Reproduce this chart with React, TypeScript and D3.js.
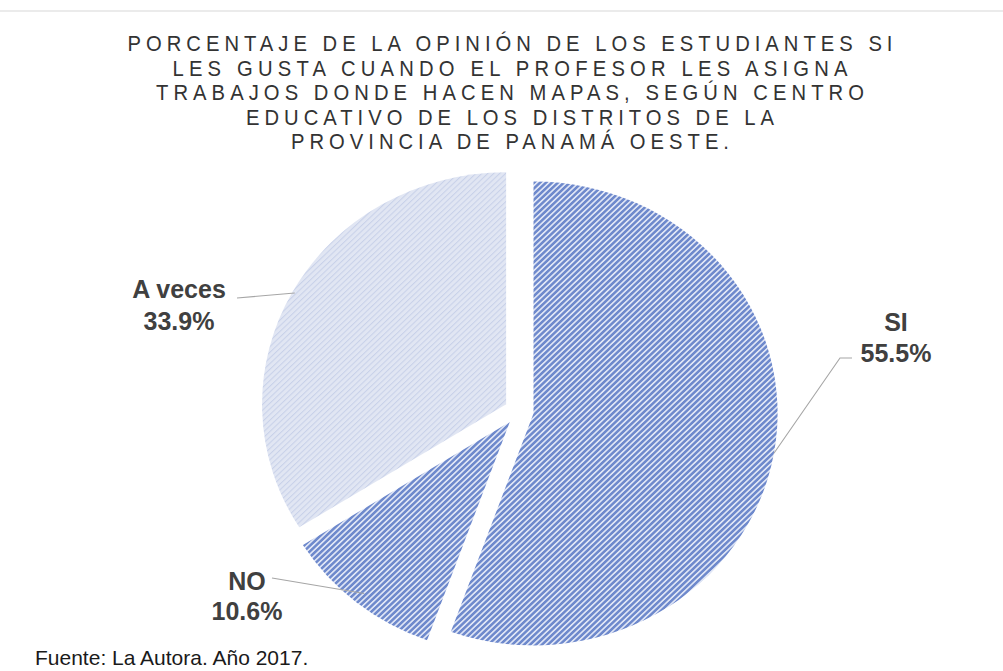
import React from "react";
import * as d3 from "d3";

const categories = ["SI", "NO", "A veces"];
const values = [55.5, 10.6, 33.9];
const valueLabels = ["55.5%", "10.6%", "33.9%"];
const titleLines = [
  "PORCENTAJE DE LA OPINIÓN DE LOS ESTUDIANTES SI",
  "LES GUSTA CUANDO EL PROFESOR LES ASIGNA",
  "TRABAJOS DONDE HACEN MAPAS, SEGÚN CENTRO",
  "EDUCATIVO DE LOS DISTRITOS DE LA",
  "PROVINCIA DE PANAMÁ OESTE.",
];
const footnote = "Fuente: La Autora. Año 2017.";

// layout (not data)
const W = 1003;
const H = 671;
const cx = 519;
const cy = 411;
const R = 232;
const SX = 1.052;
const EXPLODE = 14;
const TITLE_SX = 0.92;
const titleWidths = [765, 675, 708, 528, 438];
const titleBaselines = [51, 75.5, 100, 124.5, 149];
const fills = ["url(#hatchDark)", "url(#hatchDark)", "url(#hatchLight)"];
const labelLayout = [
  { x: 896, y1: 331, y2: 362, lr: 1.0, elbow: [840, 358], end: [852, 358] },
  { x: 247, y1: 590, y2: 620, lr: 0.95, elbow: null, end: [272, 578] },
  { x: 179, y1: 298, y2: 330, lr: 0.99, elbow: null, end: [237, 298] },
];

export default function App() {
  const pie = d3
    .pie<number>()
    .sort(null)
    .value((d) => d)
    .startAngle(0)
    .endAngle(2 * Math.PI);
  const arcs = pie(values);
  const arc = d3.arc<d3.PieArcDatum<number>>().innerRadius(0).outerRadius(R);

  return (
    <svg
      width={W}
      height={H}
      style={{ position: "absolute", left: 0, top: 0, background: "#fff" }}
    >
      <defs>
        <pattern
          id="hatchDark"
          width={4}
          height={4}
          patternUnits="userSpaceOnUse"
          patternTransform="rotate(45)"
        >
          <rect width={4} height={4} fill="#dfe5f5" />
          <rect width={2.4} height={4} fill="#6e89cc" />
        </pattern>
        <pattern
          id="hatchLight"
          width={4}
          height={4}
          patternUnits="userSpaceOnUse"
          patternTransform="rotate(45)"
        >
          <rect width={4} height={4} fill="#e1e6f3" />
          <rect width={1} height={4} fill="#c8d1e9" />
        </pattern>
      </defs>
      <rect width={W} height={H} fill="#fff" />
      <line x1={0} x2={W} y1={11} y2={11} stroke="#ebebeb" strokeWidth={2} />

      {titleLines.map((t, i) => (
        <g key={i} transform={`translate(510,${titleBaselines[i]}) scale(${TITLE_SX},1)`}>
          <text
            x={0}
            y={0}
            textAnchor="middle"
            fontFamily="'Liberation Sans', Arial, sans-serif"
            fontSize={22}
            fill="#333"
            textLength={titleWidths[i] / TITLE_SX}
            lengthAdjust="spacing"
          >
            {t}
          </text>
        </g>
      ))}

      <g transform={`translate(${cx},${cy}) scale(${SX},1)`}>
        {arcs.map((a, i) => {
          const mid = (a.startAngle + a.endAngle) / 2;
          const ox = EXPLODE * Math.sin(mid);
          const oy = -EXPLODE * Math.cos(mid);
          return (
            <path
              key={categories[i]}
              d={arc(a) || ""}
              transform={`translate(${ox},${oy})`}
              fill={fills[i]}
            />
          );
        })}
      </g>

      {arcs.map((a, i) => {
        const mid = (a.startAngle + a.endAngle) / 2;
        const L = labelLayout[i];
        const r = R * L.lr;
        const px = cx + SX * ((EXPLODE + r) * Math.sin(mid));
        const py = cy - (EXPLODE + r) * Math.cos(mid);
        const pts: number[][] = [[px, py]];
        if (L.elbow) pts.push(L.elbow);
        pts.push(L.end);
        const line = d3.line()(pts as [number, number][]) || "";
        return (
          <g key={categories[i]}>
            <path d={line} fill="none" stroke="#a6a6a6" strokeWidth={1.1} />
            <text
              x={L.x}
              y={L.y1}
              textAnchor="middle"
              fontFamily="'Liberation Sans', Arial, sans-serif"
              fontWeight="bold"
              fontSize={25}
              fill="#404040"
            >
              {categories[i]}
            </text>
            <text
              x={L.x}
              y={L.y2}
              textAnchor="middle"
              fontFamily="'Liberation Sans', Arial, sans-serif"
              fontWeight="bold"
              fontSize={25}
              fill="#404040"
            >
              {valueLabels[i]}
            </text>
          </g>
        );
      })}

      <text
        x={35}
        y={665}
        fontFamily="'Liberation Sans', Arial, sans-serif"
        fontSize={21}
        fill="#1a1a1a"
      >
        {footnote}
      </text>
    </svg>
  );
}
